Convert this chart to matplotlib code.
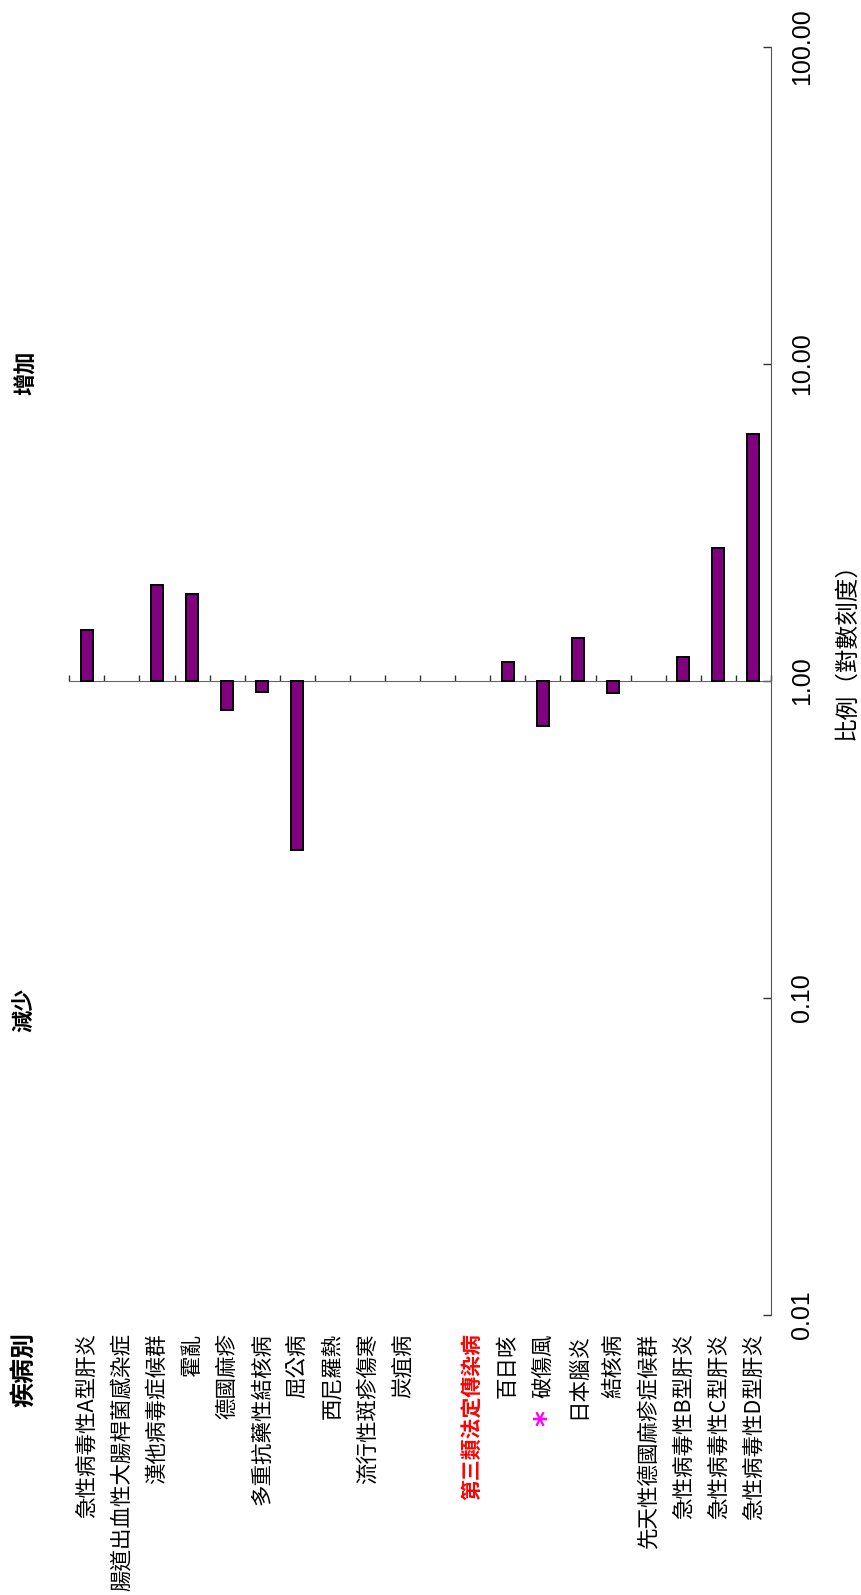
import matplotlib
matplotlib.use("Agg")
import matplotlib.pyplot as plt
import matplotlib.ticker as mticker
import numpy as np

plt.rcParams['font.family'] = ['Noto Sans CJK TC', 'DejaVu Sans']

# disease categories (index 10 is a spacer, index 11 is the group heading)
categories = [
    '急性病毒性A型肝炎', '腸道出血性大腸桿菌感染症', '漢他病毒症候群', '霍亂',
    '德國麻疹', '多重抗藥性結核病', '屈公病', '西尼羅熱', '流行性斑疹傷寒', '炭疽病',
    '', '第三類法定傳染病',
    '百日咳', '破傷風', '日本腦炎', '結核病', '先天性德國麻疹症候群',
    '急性病毒性B型肝炎', '急性病毒性C型肝炎', '急性病毒性D型肝炎',
]
# ratio (log scale), None = no bar
ratios = [
    1.45, None, 2.00, 1.88,
    0.81, 0.923, 0.293, None, None, None,
    None, None,
    1.146, 0.721, 1.367, 0.914, None,
    1.193, 2.62, 6.02,
]
heading_idx = 11
starred_idx = 13
y_ticks = [0.01, 0.1, 1, 10, 100]
y_ticklabels = ['0.01', '0.10', '1.00', '10.00', '100.00']

W, H = 862, 1595
fig = plt.figure(figsize=(W / 100, H / 100), dpi=100)
ax = fig.add_axes([69.3 / W, 1 - 1315 / H, (771 - 69.3) / W, (1315 - 46.7) / H])

ax.set_yscale('log')
ax.set_ylim(0.01, 100)
ax.set_xlim(-0.5, len(categories) - 0.5)

xs = [i for i, v in enumerate(ratios) if v is not None]
vals = [ratios[i] for i in xs]
ax.bar(xs, [v - 1 for v in vals], bottom=1, width=0.34,
       color='#800080', edgecolor='black', linewidth=1.4, zorder=3)

# spines
ax.spines['left'].set_visible(False)
ax.spines['top'].set_visible(False)
ax.spines['bottom'].set_position(('data', 1.0))
ax.spines['bottom'].set_color('#666666')
ax.spines['right'].set_color('#555555')

# category axis: boundary ticks pointing up, no tick labels
ax.set_xticks(np.arange(-0.5, len(categories), 1.0))
ax.set_xticklabels([])
ax.tick_params(axis='x', direction='in', length=4, width=1, color='#333333')

# value axis on the right
ax.yaxis.tick_right()
ax.yaxis.set_major_locator(mticker.FixedLocator(y_ticks))
ax.yaxis.set_major_formatter(mticker.FixedFormatter(y_ticklabels))
ax.yaxis.set_minor_locator(mticker.NullLocator())
ax.tick_params(axis='y', direction='in', length=6, width=1, color='#333333', pad=14)
for lab in ax.get_yticklabels():
    lab.set_rotation(90)
    lab.set_fontfamily('Liberation Sans')
    lab.set_fontsize(18)
    lab.set_va('center')

# category labels, reading bottom to top, ending just below the axes
for i, name in enumerate(categories):
    if not name:
        continue
    kw = dict(color='black', fontsize=15.5)
    if i == heading_idx:
        kw = dict(color='red', fontsize=15, fontweight='bold')
    ax.annotate(name, xy=(i, 0), xycoords=('data', 'axes fraction'),
                xytext=(0, -13), textcoords='offset points',
                rotation=90, ha='center', va='top', **kw)
ax.annotate('*', xy=(starred_idx, 0), xycoords=('data', 'axes fraction'),
            xytext=(3, -74), textcoords='offset points',
            rotation=90, ha='center', va='center', color='#FF00FF',
            fontsize=22, fontweight='bold', family='DejaVu Sans')

fig.text(25 / W, 1 - 1332 / H, '疾病別', rotation=90, ha='center', va='top',
         fontsize=18, fontweight='bold')
fig.text(26 / W, 1 - 373 / H, '增加', rotation=90, ha='center', va='center',
         fontsize=16, fontweight='bold')
fig.text(24 / W, 1 - 1010 / H, '減少', rotation=90, ha='center', va='center',
         fontsize=16, fontweight='bold')
fig.text(847 / W, 1 - 645 / H, '比例（對數刻度）', rotation=90, ha='center', va='center',
         fontsize=17)

fig.savefig('out.png', dpi=100)
